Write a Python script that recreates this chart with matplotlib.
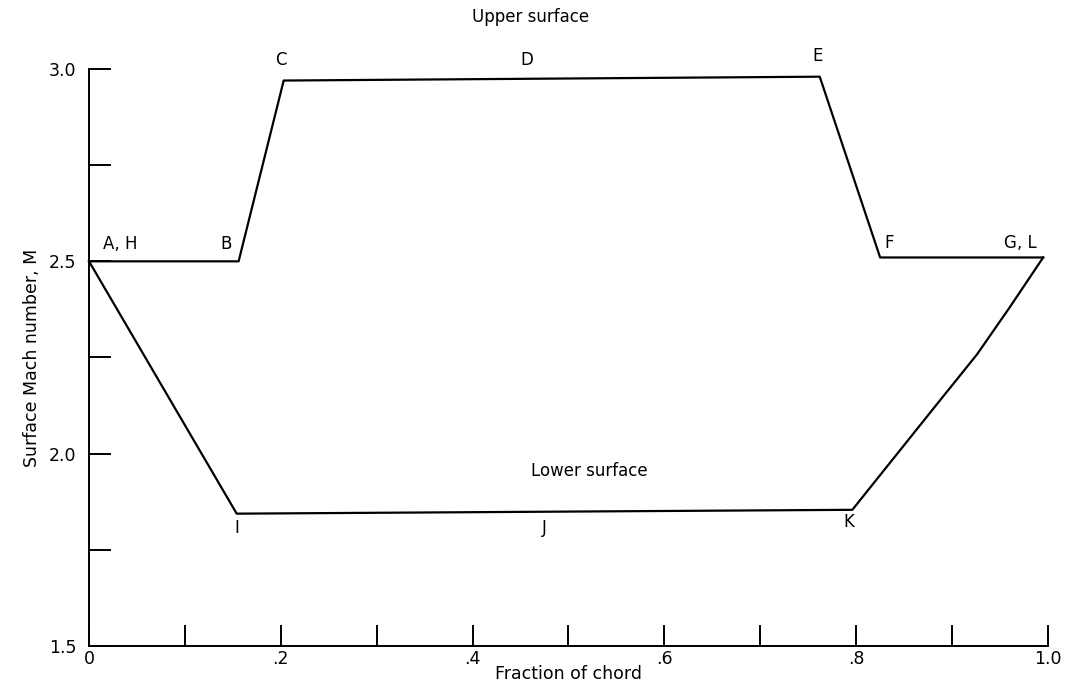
import matplotlib
matplotlib.use('Agg')
from matplotlib import pyplot as plt

# points (fraction of chord, Mach number)
upper_x = [0.0, 0.156, 0.203, 0.762, 0.825, 0.995]
upper_y = [2.5, 2.5, 2.97, 2.98, 2.51, 2.51]
lower_x = [0.0, 0.154, 0.796, 0.884, 0.926, 0.960, 0.995]
lower_y = [2.5, 1.844, 1.854, 2.128, 2.258, 2.38, 2.51]

# point letters and where they sit
point_names = ['A, H', 'B', 'C', 'D', 'E', 'F', 'G, L', 'I', 'J', 'K']
point_x = [0.033, 0.143, 0.200, 0.457, 0.760, 0.834, 0.971, 0.154, 0.475, 0.792]
point_y = [2.544, 2.544, 3.023, 3.023, 3.034, 2.547, 2.547, 1.807, 1.807, 1.823]

x_ticks = [0.0, 0.1, 0.2, 0.3, 0.4, 0.5, 0.6, 0.7, 0.8, 0.9, 1.0]
x_ticklabels = ['0', '', '.2', '', '.4', '', '.6', '', '.8', '', '1.0']
y_ticks = [1.5, 1.75, 2.0, 2.25, 2.5, 2.75, 3.0]
y_ticklabels = ['1.5', '', '2.0', '', '2.5', '', '3.0']


def main():
    plt.rcParams['font.family'] = ['DejaVu Sans']
    fig = plt.figure(figsize=(10.7, 6.9), dpi=100)
    ax = fig.add_axes([0.0832, 0.0638, 0.8962, 0.8362])

    ax.plot(upper_x, upper_y, color='black', lw=1.6, clip_on=False)
    ax.plot(lower_x, lower_y, color='black', lw=1.6, clip_on=False)

    for name, x, y in zip(point_names, point_x, point_y):
        ax.text(x, y, name, ha='center', va='center', fontsize=12)

    ax.text(0.46, 3.135, 'Upper surface', ha='center', va='center', fontsize=12)
    ax.text(0.522, 1.956, 'Lower surface', ha='center', va='center', fontsize=12)

    ax.set_xlim(0, 1.0)
    ax.set_ylim(1.5, 3.0)
    ax.set_xticks(x_ticks)
    ax.set_xticklabels(x_ticklabels)
    ax.set_yticks(y_ticks)
    ax.set_yticklabels(y_ticklabels)

    ax.spines['top'].set_visible(False)
    ax.spines['right'].set_visible(False)
    for s in ['left', 'bottom']:
        ax.spines[s].set_linewidth(1.4)

    ax.tick_params(axis='x', direction='in', length=15, width=1.4, pad=3, labelsize=12.5)
    ax.tick_params(axis='y', direction='in', length=16, width=1.4, pad=9, labelsize=12.5)

    ax.set_xlabel('Fraction of chord', fontsize=12.5, labelpad=-2)
    ax.set_ylabel('Surface Mach number, M', fontsize=12.5, labelpad=6)

    plt.savefig('out.png', dpi=100)


if __name__ == "__main__":
    main()
